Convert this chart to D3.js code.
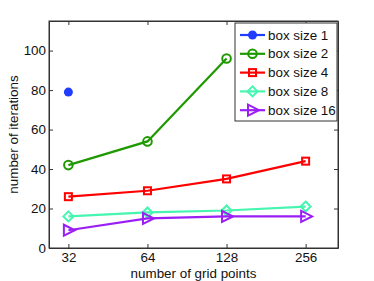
<!DOCTYPE html>
<html>
<head>
<meta charset="utf-8">
<script src="https://cdn.jsdelivr.net/npm/d3@7"></script>
<style>
body { margin: 0; background: #fff; }
text { font-family: "Liberation Sans", Arial, sans-serif; }
</style>
</head>
<body>
<div id="chart"></div>
<script>
var gridPoints = [32, 64, 128, 256];
var yTicks = [0, 20, 40, 60, 80, 100];

var box1 = [79];
var box2 = [42, 54, 96];
var box4 = [26, 29, 35, 44];
var box8 = [16, 18, 19, 21];
var box16 = [9, 15, 16, 16];

var series = [
  { name: "box size 1", values: box1, color: "#1f3cff", marker: "dot" },
  { name: "box size 2", values: box2, color: "#1e9a00", marker: "circle" },
  { name: "box size 4", values: box4, color: "#ff0000", marker: "square" },
  { name: "box size 8", values: box8, color: "#45f5b0", marker: "diamond" },
  { name: "box size 16", values: box16, color: "#9b1ff5", marker: "triangle" }
];

var W = 374, H = 281, fs = 13.4;
var margin = { top: 21, right: 36, bottom: 33, left: 49 },
    width = W - margin.left - margin.right,
    height = H - margin.top - margin.bottom;

var svg = d3.select("#chart").append("svg")
    .attr("width", W)
    .attr("height", H);

var g = svg.append("g")
    .attr("transform", "translate(" + margin.left + "," + margin.top + ")");

var x = d3.scaleLog().base(2)
    .domain([27, 340])
    .range([0, width]);

var y = d3.scaleLinear()
    .domain([0, 115])
    .range([height, 0]);

// axes, MATLAB style with ticks inside
var tk = 4;
g.append("g")
    .attr("transform", "translate(0," + height + ")")
    .call(d3.axisBottom(x).tickValues(gridPoints).tickFormat(d3.format("d")).tickSizeInner(-tk).tickSizeOuter(0).tickPadding(4));
g.append("g")
    .call(d3.axisLeft(y).tickValues(yTicks).tickSizeInner(-tk).tickSizeOuter(0).tickPadding(3));
g.append("g")
    .call(d3.axisTop(x).tickValues(gridPoints).tickFormat("").tickSizeInner(-tk).tickSizeOuter(0));
g.append("g")
    .attr("transform", "translate(" + width + ",0)")
    .call(d3.axisRight(y).tickValues(yTicks).tickFormat("").tickSizeInner(-tk).tickSizeOuter(0));

g.selectAll(".domain").attr("stroke", "#333");
g.selectAll(".tick line").attr("stroke", "#333");
g.selectAll(".tick text").attr("font-size", fs).attr("fill", "#111")
    .style("font-family", "'Liberation Sans', Arial, sans-serif");

g.append("rect")
    .attr("width", width).attr("height", height)
    .attr("fill", "none").attr("stroke", "#333").attr("stroke-width", 1);

function drawMarker(sel, type, color, cx, cy) {
  if (type === "dot") {
    sel.append("circle").attr("cx", cx).attr("cy", cy).attr("r", 4.5).attr("fill", color);
  } else if (type === "circle") {
    sel.append("circle").attr("cx", cx).attr("cy", cy).attr("r", 4.3)
      .attr("fill", "none").attr("stroke", color).attr("stroke-width", 2);
  } else if (type === "square") {
    sel.append("rect").attr("x", cx - 3.5).attr("y", cy - 3.5).attr("width", 7).attr("height", 7)
      .attr("fill", "none").attr("stroke", color).attr("stroke-width", 2);
  } else if (type === "diamond") {
    sel.append("path").attr("d", "M" + cx + "," + (cy - 5) + "L" + (cx + 5) + "," + cy + "L" + cx + "," + (cy + 5) + "L" + (cx - 5) + "," + cy + "Z")
      .attr("fill", "none").attr("stroke", color).attr("stroke-width", 2);
  } else if (type === "triangle") {
    sel.append("path").attr("d", "M" + (cx - 4.5) + "," + (cy - 5.5) + "L" + (cx + 6.5) + "," + cy + "L" + (cx - 4.5) + "," + (cy + 5.5) + "Z")
      .attr("fill", "none").attr("stroke", color).attr("stroke-width", 2);
  }
}

var line = d3.line()
    .x(function(d) { return x(d.x); })
    .y(function(d) { return y(d.y); });

series.forEach(function(s) {
  var pts = s.values.map(function(v, i) { return { x: gridPoints[i], y: v }; });
  var sg = g.append("g");
  if (pts.length > 1) {
    sg.append("path").datum(pts)
      .attr("d", line)
      .attr("fill", "none")
      .attr("stroke", s.color)
      .attr("stroke-width", 2.2);
  }
  pts.forEach(function(p) { drawMarker(sg, s.marker, s.color, x(p.x), y(p.y)); });
});

// legend
var lg = svg.append("g").attr("transform", "translate(235,23)");
lg.append("rect")
    .attr("width", 102).attr("height", 98)
    .attr("fill", "#fff").attr("stroke", "#333").attr("stroke-width", 1);
series.forEach(function(s, i) {
  var yy = 12 + i * 18.8;
  lg.append("line").attr("x1", 5).attr("x2", 30).attr("y1", yy).attr("y2", yy)
    .attr("stroke", s.color).attr("stroke-width", 2.2);
  drawMarker(lg, s.marker, s.color, 17.5, yy);
  lg.append("text").attr("x", 33).attr("y", yy).attr("dy", "0.35em")
    .attr("font-size", fs).attr("fill", "#111").text(s.name);
});

// axis titles
svg.append("text")
    .attr("x", margin.left + width / 2).attr("y", 278)
    .attr("text-anchor", "middle").attr("font-size", fs).attr("fill", "#111")
    .text("number of grid points");
svg.append("text")
    .attr("transform", "translate(18," + (margin.top + height / 2) + ") rotate(-90)")
    .attr("text-anchor", "middle").attr("font-size", fs).attr("fill", "#111")
    .text("number of iterations");
</script>
</body>
</html>
